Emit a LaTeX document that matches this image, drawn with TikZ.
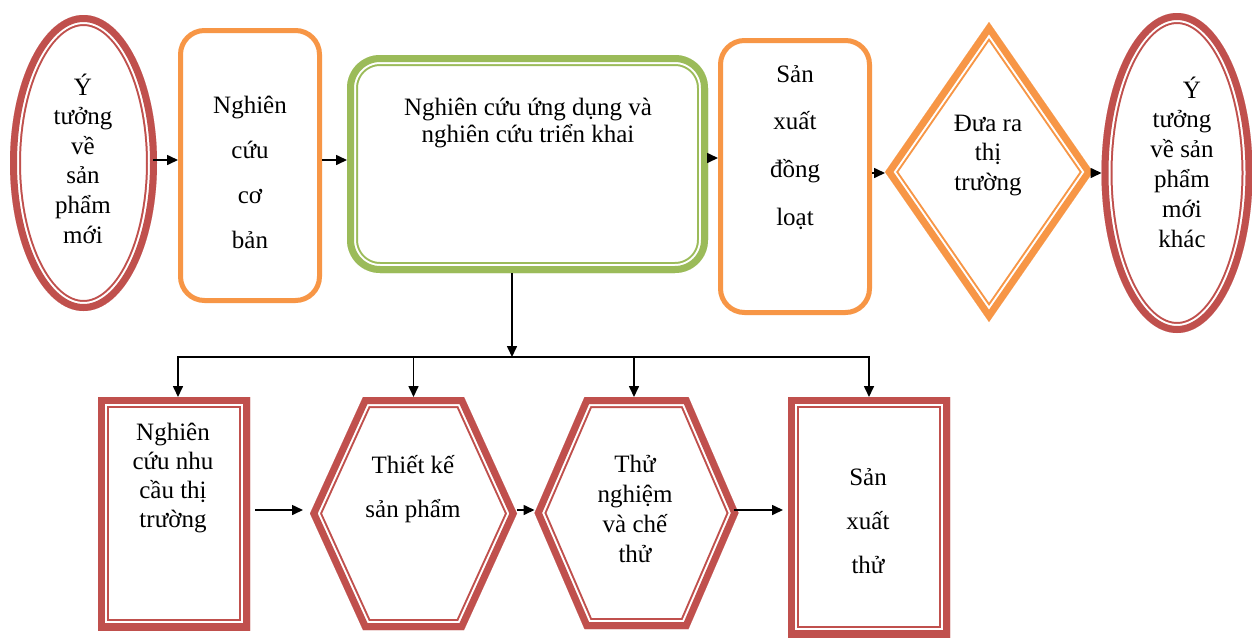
\documentclass[tikz,border=0pt]{standalone}
\usepackage{fontspec}
\setmainfont{Liberation Serif}
\newfontfamily\vietserif{Liberation Serif}
\usetikzlibrary{shapes.geometric,arrows.meta}
\definecolor{cred}{HTML}{C0504D}
\definecolor{corange}{HTML}{F79646}
\definecolor{cgreen}{HTML}{9BBB59}
% thick outer line, white gap, thin inner line, all inside the given outline
\newcommand{\dblline}[2]{\begin{scope}\clip #2;\draw[#1,line width=22pt] #2;\draw[white,line width=18pt] #2;\draw[#1,line width=14pt] #2;\end{scope}}
\newcommand{\tl}[2]{\parbox[t]{300pt}{\centering\vietserif\fontsize{25pt}{#1pt}\selectfont\lineskiplimit=-1000pt\lineskip=0pt #2}}
\begin{document}
\begin{tikzpicture}[x=1pt,y=-1pt,
  frame/.style={draw=none,inner sep=0pt,outer sep=0pt},
  obox/.style={draw=corange,line width=5pt,rounded corners=24pt,inner sep=0pt,outer sep=2.5pt},
  txt/.style={anchor=base,inner sep=0pt,font=\vietserif},
  arr/.style={line width=1.6pt,-{Triangle[length=11pt,width=10pt]}}]
\fill[white] (0,0) rectangle (1253,638);
\useasboundingbox (0,0) rectangle (1253,638);
% ---- top row shapes
\node[frame,ellipse,minimum width=147pt,minimum height=296pt] (e1) at (83.5,163) {};
\dblline{cred}{(e1.center) ellipse [x radius=73.5pt, y radius=148pt]}
\node[obox,minimum width=139pt,minimum height=270pt] (b2) at (250,165.5) {};
\node[frame,minimum width=361pt,minimum height=218pt] (g) at (527.5,164) {};
\dblline{cgreen}{[rounded corners=33pt] (g.north west) rectangle (g.south east)}
\node[obox,minimum width=149pt,minimum height=272pt] (b4) at (795,176.5) {};
\node[frame,minimum width=208pt,minimum height=300pt] (d) at (989,172) {};
\dblline{corange}{(d.west) -- (d.north) -- (d.east) -- (d.south) -- cycle}
\node[frame,ellipse,minimum width=151pt,minimum height=320pt] (e2) at (1177,173) {};
\dblline{cred}{(e2.center) ellipse [x radius=75.5pt, y radius=160pt]}
% ---- bottom row shapes
\node[frame,minimum width=152pt,minimum height=233pt] (b5) at (174,513.5) {};
\dblline{cred}{(b5.north west) rectangle (b5.south east)}
\node[frame,minimum width=207pt,minimum height=233pt] (h1) at (413.5,513.5) {};
\dblline{cred}{(h1.west) -- ([xshift=53pt]h1.north west) -- ([xshift=-53pt]h1.north east) -- (h1.east) -- ([xshift=-53pt]h1.south east) -- ([xshift=53pt]h1.south west) -- cycle}
\node[frame,minimum width=204pt,minimum height=232pt] (h2) at (636.5,513) {};
\dblline{cred}{(h2.west) -- ([xshift=50pt]h2.north west) -- ([xshift=-50pt]h2.north east) -- (h2.east) -- ([xshift=-50pt]h2.south east) -- ([xshift=50pt]h2.south west) -- cycle}
\node[frame,minimum width=162pt,minimum height=240pt] (b8) at (869,517) {};
\dblline{cred}{(b8.north west) rectangle (b8.south east)}
% ---- texts
\node[txt] (e1t) at (83,95) {\tl{29.6}{Ý\\tưởng\\về\\sản\\phẩm\\mới}};
\node[txt] (b2t) at (250,113) {\tl{45}{Nghiên\\cứu\\cơ\\bản}};
\node[txt] (gt) at (528,115) {\tl{27}{Nghiên cứu ứng dụng và\\nghiên cứu triển khai}};
\node[txt] (b4t) at (795,82) {\tl{47.7}{Sản\\xuất\\đồng\\loạt}};
\node[txt] (dt) at (988,131) {\tl{29.7}{Đưa ra\\thị\\trường}};
\node[txt] (e2t) at (1182,98) {\tl{29.8}{\hspace*{20pt}Ý\\tưởng\\về sản\\phẩm\\mới\\khác}};
\node[txt] (b5t) at (173,440) {\tl{29.3}{Nghiên\\cứu nhu\\cầu thị\\trường}};
\node[txt] (h1t) at (413,473) {\tl{44}{Thiết kế\\sản phẩm}};
\node[txt] (h2t) at (635,472) {\tl{30}{Thử\\nghiệm\\và chế\\thử}};
\node[txt] (b8t) at (868,485) {\tl{44}{Sản\\xuất\\thử}};
% ---- connectors, top row
\draw[arr,shorten <=-4pt] (e1.east |- 0,160) -- (b2.west |- 0,160);
\draw[arr] (b2.east |- 0,160) -- (g.west |- 0,160);
\draw[arr,shorten <=-6pt] (g.east |- 0,158) -- (b4.west |- 0,158);
\draw[arr] (b4.east |- 0,173) -- (d.west |- 0,173);
\draw[arr,shorten <=-3pt] (d.east |- 0,173) -- (e2.west |- 0,173);
% ---- distribution to the bottom row
\coordinate (j) at (512,357);
\coordinate (b5top) at ([xshift=4pt]b5.north);
\coordinate (h2top) at ([xshift=-2.5pt]h2.north);
\draw[arr] (j |- g.south) -- (j);
\draw[arr] (j) -| (b5top);
\draw[arr] (j) -| (b8.north);
\draw[arr] (h1.north |- j) -- (h1.north);
\draw[arr] (h2top |- j) -- (h2top);
% ---- connectors, bottom row
\draw[arr,shorten <=5pt,shorten >=7pt] (b5.east |- 0,510) -- (h1.west |- 0,510);
\draw[arr] (h1.east |- 0,510) -- (h2.west |- 0,510);
\draw[arr,shorten <=-5pt,shorten >=5pt] (h2.east |- 0,510) -- (b8.west |- 0,510);
\end{tikzpicture}
\end{document}
